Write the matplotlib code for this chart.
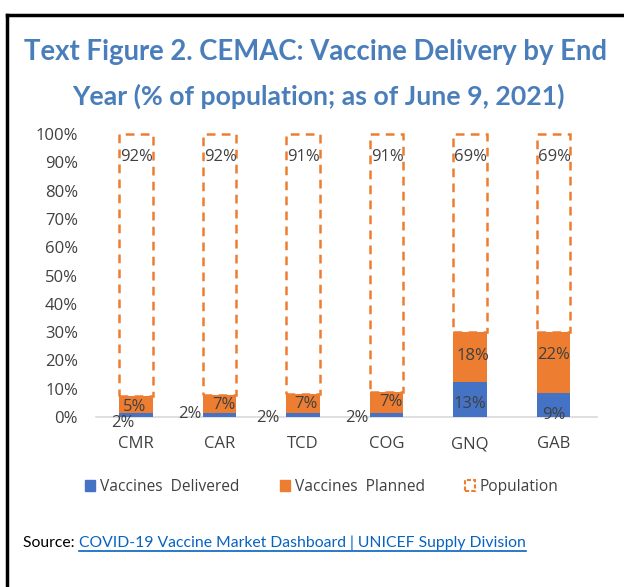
import matplotlib
matplotlib.use("Agg")
import matplotlib.pyplot as plt
from matplotlib.patches import Patch
from matplotlib.lines import Line2D

# ---- data ----
categories = ["CMR", "CAR", "TCD", "COG", "GNQ", "GAB"]
delivered = [1.4, 1.3, 1.3, 1.5, 12.2, 8.4]
planned = [6.0, 6.5, 6.9, 7.4, 17.9, 21.7]
population_rest = [92.6, 92.2, 91.8, 91.1, 69.9, 69.9]
delivered_labels = ["2%", "2%", "2%", "2%", "13%", "9%"]
planned_labels = ["5%", "7%", "7%", "7%", "18%", "22%"]
population_labels = ["92%", "92%", "91%", "91%", "69%", "69%"]
yticks = [0, 10, 20, 30, 40, 50, 60, 70, 80, 90, 100]
ytick_labels = [f"{v}%" for v in yticks]

# label placement (offsets in x-category units, y in data units)
deliv_lbl_pos = [(-0.16, -2.0), (-0.36, 1.1), (-0.42, -0.4), (-0.36, -0.4), (0.0, 4.6), (0.0, 0.7)]
plan_lbl_pos = [(-0.02, 3.5), (0.05, 4.3), (0.04, 4.6), (0.05, 5.3), (0.03, 21.6), (0.0, 22.0)]
pop_lbl_y = 91.8

BLUE = "#4472C4"
ORANGE = "#ED7D31"
TXT = "#404040"
TITLE = "#4A7EBB"

fig = plt.figure(figsize=(6.24, 5.87), dpi=100)
fig.patch.set_facecolor("white")

# frame
fig.add_artist(Line2D([7/624, 7/624], [0, 1 - 15/587], transform=fig.transFigure, color="black", lw=2.5))
fig.add_artist(Line2D([7/624, 1.0], [1 - 15/587, 1 - 15/587], transform=fig.transFigure, color="black", lw=2.5))

ax = fig.add_axes([96/624, 1 - 417/587, (597 - 96)/624, (417 - 134)/587])
x = list(range(len(categories)))
w = 0.40
ax.bar(x, delivered, width=w, color=BLUE, zorder=2)
ax.bar(x, planned, width=w, bottom=delivered, color=ORANGE, zorder=2)
bottoms2 = [d + p for d, p in zip(delivered, planned)]
ax.bar(x, population_rest, width=w, bottom=bottoms2, facecolor="none",
       edgecolor=ORANGE, linestyle=(0, (3.5, 2.5)), linewidth=1.8, zorder=3, clip_on=False)

ax.set_xlim(-0.48, 5.52)
ax.set_ylim(0, 100)
ax.set_yticks(yticks)
ax.set_yticklabels(ytick_labels)
ax.set_xticks(x)
ax.set_xticklabels(categories)
ax.tick_params(axis="both", length=0, labelsize=12, colors=TXT)
ax.tick_params(axis="y", pad=13)
ax.tick_params(axis="x", pad=14)
for lbl in ax.get_xticklabels() + ax.get_yticklabels():
    lbl.set_fontfamily("Open Sans")
for s in ["top", "right", "left"]:
    ax.spines[s].set_visible(False)
ax.spines["bottom"].set_color("#D9D9D9")
ax.spines["bottom"].set_linewidth(1.2)
ax.spines["bottom"].set_zorder(1)

lblkw = dict(ha="center", va="center", fontsize=12, color=TXT, family="Open Sans", zorder=5, clip_on=False)
for i in x:
    dx, dy = deliv_lbl_pos[i]
    ax.text(i + dx, dy, delivered_labels[i], **lblkw)
    dx, dy = plan_lbl_pos[i]
    ax.text(i + dx, dy, planned_labels[i], **lblkw)
    ax.text(i + 0.01, pop_lbl_y, population_labels[i], **lblkw)

# title
fig.text(316/624, 1 - 52/587, "Text Figure 2. CEMAC: Vaccine Delivery by End",
         ha="center", va="center", fontsize=19.8, fontweight="bold", color=TITLE, family="Lato")
fig.text(318/624, 1 - 96/587, "Year (% of population; as of June 9, 2021)",
         ha="center", va="center", fontsize=19.2, fontweight="bold", color=TITLE, family="Lato")

# legend
handles = [Patch(facecolor=BLUE, edgecolor=BLUE),
           Patch(facecolor=ORANGE, edgecolor=ORANGE),
           Patch(facecolor="white", edgecolor=ORANGE, linestyle=(0, (2, 1)), linewidth=1.5)]
leg = fig.legend(handles, ["Vaccines  Delivered", "Vaccines  Planned", "Population"],
                 loc="center", bbox_to_anchor=(322/624, 1 - 487/587), ncol=3, frameon=False,
                 prop={"family": "Open Sans", "size": 11.2}, handlelength=0.65, handleheight=0.65,
                 handletextpad=0.3, columnspacing=2.6)
for t in leg.get_texts():
    t.set_color(TXT)

# source
src = fig.text(23/624, 1 - 543/587, "Source: ", ha="left", va="center", fontsize=11.3,
               color="black", family="Lato")
fig.canvas.draw()
bb = src.get_window_extent()
xr = bb.x1 / fig.bbox.width
link = fig.text(xr, 1 - 543/587, "COVID-19 Vaccine Market Dashboard | UNICEF Supply Division",
                ha="left", va="center", fontsize=11.3, color="#0563C1", family="Lato")
fig.canvas.draw()
lb = link.get_window_extent()
fig.add_artist(Line2D([lb.x0 / fig.bbox.width, lb.x1 / fig.bbox.width],
                      [(lb.y0 - 1) / fig.bbox.height] * 2, transform=fig.transFigure,
                      color="#0563C1", lw=1.2))

fig.savefig("out.png", dpi=100)
